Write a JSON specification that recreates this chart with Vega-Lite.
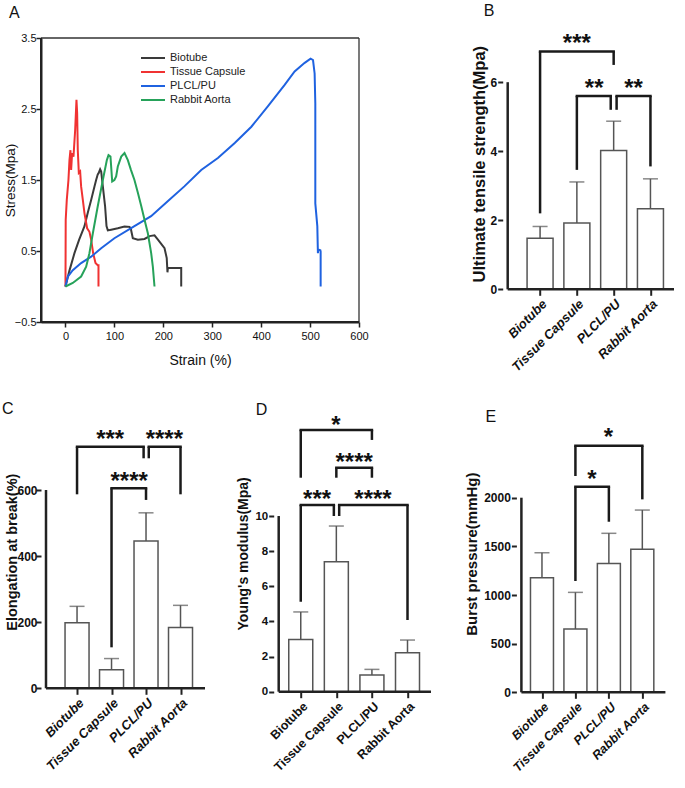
{
"$schema": "https://vega.github.io/schema/vega-lite/v6.json",
"padding": {"left": 2, "top": 3, "right": 0, "bottom": 0},
"autosize": {"type": "pad"},
"spacing": 27,
"config": {
  "font": "Liberation Sans",
  "view": {"stroke": null},
  "axis": {"grid": false, "labelColor": "#111", "titleColor": "#111", "tickColor": "#222", "domainColor": "#222", "labelFlush": false, "labelOverlap": false},
  "title": {"color": "#111", "font": "Liberation Sans"},
  "legend": {"labelFont": "Liberation Sans"}
},
"vconcat": [
{
"hconcat": [
{
  "width": 318, "height": 284,
  "title": {"text": "A", "anchor": "start", "frame": "group", "dx": -32, "offset": 11, "fontSize": 16, "fontWeight": "normal"},
  "layer": [
    {"data": {"values": [
{"s":"Biotube","i":0,"strain":0,"stress":0},{"s":"Biotube","i":1,"strain":8,"stress":0.22},{"s":"Biotube","i":2,"strain":18.4,"stress":0.47},{"s":"Biotube","i":3,"strain":28,"stress":0.66},{"s":"Biotube","i":4,"strain":38.9,"stress":0.85},{"s":"Biotube","i":5,"strain":46,"stress":1.05},{"s":"Biotube","i":6,"strain":52.5,"stress":1.22},{"s":"Biotube","i":7,"strain":59.3,"stress":1.41},{"s":"Biotube","i":8,"strain":62.7,"stress":1.5},{"s":"Biotube","i":9,"strain":66,"stress":1.58},{"s":"Biotube","i":10,"strain":68,"stress":1.6},{"s":"Biotube","i":11,"strain":70.9,"stress":1.65},{"s":"Biotube","i":12,"strain":73,"stress":1.62},{"s":"Biotube","i":13,"strain":76.4,"stress":1.41},{"s":"Biotube","i":14,"strain":81,"stress":1.13},{"s":"Biotube","i":15,"strain":83.9,"stress":0.85},{"s":"Biotube","i":16,"strain":86.6,"stress":0.79},{"s":"Biotube","i":17,"strain":93.4,"stress":0.8},{"s":"Biotube","i":18,"strain":107,"stress":0.82},{"s":"Biotube","i":19,"strain":120.7,"stress":0.845},{"s":"Biotube","i":20,"strain":131,"stress":0.84},{"s":"Biotube","i":21,"strain":134,"stress":0.8},{"s":"Biotube","i":22,"strain":137.7,"stress":0.68},{"s":"Biotube","i":23,"strain":148,"stress":0.66},{"s":"Biotube","i":24,"strain":161.6,"stress":0.67},{"s":"Biotube","i":25,"strain":172,"stress":0.71},{"s":"Biotube","i":26,"strain":182,"stress":0.72},{"s":"Biotube","i":27,"strain":189,"stress":0.66},{"s":"Biotube","i":28,"strain":195.7,"stress":0.6},{"s":"Biotube","i":29,"strain":202.5,"stress":0.54},{"s":"Biotube","i":30,"strain":207,"stress":0.4},{"s":"Biotube","i":31,"strain":208.5,"stress":0.2},{"s":"Biotube","i":32,"strain":209.3,"stress":0.26},{"s":"Biotube","i":33,"strain":236.6,"stress":0.26},{"s":"Biotube","i":34,"strain":236.6,"stress":0},
{"s":"Tissue Capsule","i":0,"strain":0,"stress":0},{"s":"Tissue Capsule","i":1,"strain":0.3,"stress":0.5},{"s":"Tissue Capsule","i":2,"strain":0.5,"stress":0.94},{"s":"Tissue Capsule","i":3,"strain":2.7,"stress":1.22},{"s":"Tissue Capsule","i":4,"strain":6.1,"stress":1.5},{"s":"Tissue Capsule","i":5,"strain":8.2,"stress":1.78},{"s":"Tissue Capsule","i":6,"strain":10.2,"stress":1.92},{"s":"Tissue Capsule","i":7,"strain":11.6,"stress":1.64},{"s":"Tissue Capsule","i":8,"strain":13.6,"stress":1.88},{"s":"Tissue Capsule","i":9,"strain":16.4,"stress":1.83},{"s":"Tissue Capsule","i":10,"strain":19.8,"stress":2.2},{"s":"Tissue Capsule","i":11,"strain":22.5,"stress":2.63},{"s":"Tissue Capsule","i":12,"strain":23.9,"stress":2.44},{"s":"Tissue Capsule","i":13,"strain":25.2,"stress":1.92},{"s":"Tissue Capsule","i":14,"strain":27.3,"stress":1.6},{"s":"Tissue Capsule","i":15,"strain":30,"stress":1.62},{"s":"Tissue Capsule","i":16,"strain":32,"stress":1.41},{"s":"Tissue Capsule","i":17,"strain":35.5,"stress":1.22},{"s":"Tissue Capsule","i":18,"strain":38.9,"stress":1.03},{"s":"Tissue Capsule","i":19,"strain":44.3,"stress":0.82},{"s":"Tissue Capsule","i":20,"strain":49,"stress":0.77},{"s":"Tissue Capsule","i":21,"strain":52.5,"stress":0.66},{"s":"Tissue Capsule","i":22,"strain":56.6,"stress":0.47},{"s":"Tissue Capsule","i":23,"strain":61.4,"stress":0.33},{"s":"Tissue Capsule","i":24,"strain":66,"stress":0.3},{"s":"Tissue Capsule","i":25,"strain":67.5,"stress":0.3},{"s":"Tissue Capsule","i":26,"strain":67.5,"stress":0},
{"s":"PLCL/PU","i":0,"strain":0,"stress":0},{"s":"PLCL/PU","i":1,"strain":4.8,"stress":0.14},{"s":"PLCL/PU","i":2,"strain":15,"stress":0.23},{"s":"PLCL/PU","i":3,"strain":32,"stress":0.33},{"s":"PLCL/PU","i":4,"strain":52.5,"stress":0.42},{"s":"PLCL/PU","i":5,"strain":73,"stress":0.54},{"s":"PLCL/PU","i":6,"strain":100,"stress":0.68},{"s":"PLCL/PU","i":7,"strain":141,"stress":0.85},{"s":"PLCL/PU","i":8,"strain":175,"stress":0.99},{"s":"PLCL/PU","i":9,"strain":209,"stress":1.2},{"s":"PLCL/PU","i":10,"strain":243,"stress":1.41},{"s":"PLCL/PU","i":11,"strain":277.5,"stress":1.64},{"s":"PLCL/PU","i":12,"strain":311.6,"stress":1.81},{"s":"PLCL/PU","i":13,"strain":346,"stress":2.02},{"s":"PLCL/PU","i":14,"strain":380,"stress":2.25},{"s":"PLCL/PU","i":15,"strain":414,"stress":2.54},{"s":"PLCL/PU","i":16,"strain":448,"stress":2.84},{"s":"PLCL/PU","i":17,"strain":468.4,"stress":3.03},{"s":"PLCL/PU","i":18,"strain":489,"stress":3.15},{"s":"PLCL/PU","i":19,"strain":501,"stress":3.21},{"s":"PLCL/PU","i":20,"strain":506,"stress":3.19},{"s":"PLCL/PU","i":21,"strain":509.3,"stress":3.0},{"s":"PLCL/PU","i":22,"strain":510.7,"stress":2.58},{"s":"PLCL/PU","i":23,"strain":510.7,"stress":1.69},{"s":"PLCL/PU","i":24,"strain":510.7,"stress":1.17},{"s":"PLCL/PU","i":25,"strain":514.8,"stress":0.85},{"s":"PLCL/PU","i":26,"strain":516,"stress":0.47},{"s":"PLCL/PU","i":27,"strain":517,"stress":0.52},{"s":"PLCL/PU","i":28,"strain":521,"stress":0.51},{"s":"PLCL/PU","i":29,"strain":521.6,"stress":0.49},{"s":"PLCL/PU","i":30,"strain":521.6,"stress":0},
{"s":"Rabbit Aorta","i":0,"strain":0,"stress":0},{"s":"Rabbit Aorta","i":1,"strain":15,"stress":0.05},{"s":"Rabbit Aorta","i":2,"strain":32,"stress":0.14},{"s":"Rabbit Aorta","i":3,"strain":42.3,"stress":0.28},{"s":"Rabbit Aorta","i":4,"strain":49,"stress":0.47},{"s":"Rabbit Aorta","i":5,"strain":56,"stress":0.75},{"s":"Rabbit Aorta","i":6,"strain":66,"stress":1.13},{"s":"Rabbit Aorta","i":7,"strain":76.4,"stress":1.5},{"s":"Rabbit Aorta","i":8,"strain":84.6,"stress":1.78},{"s":"Rabbit Aorta","i":9,"strain":88,"stress":1.85},{"s":"Rabbit Aorta","i":10,"strain":92,"stress":1.83},{"s":"Rabbit Aorta","i":11,"strain":95.5,"stress":1.48},{"s":"Rabbit Aorta","i":12,"strain":100,"stress":1.5},{"s":"Rabbit Aorta","i":13,"strain":103.6,"stress":1.55},{"s":"Rabbit Aorta","i":14,"strain":107,"stress":1.69},{"s":"Rabbit Aorta","i":15,"strain":114,"stress":1.83},{"s":"Rabbit Aorta","i":16,"strain":120.7,"stress":1.88},{"s":"Rabbit Aorta","i":17,"strain":127.5,"stress":1.78},{"s":"Rabbit Aorta","i":18,"strain":134,"stress":1.64},{"s":"Rabbit Aorta","i":19,"strain":141,"stress":1.5},{"s":"Rabbit Aorta","i":20,"strain":148,"stress":1.32},{"s":"Rabbit Aorta","i":21,"strain":155,"stress":1.13},{"s":"Rabbit Aorta","i":22,"strain":161.6,"stress":0.94},{"s":"Rabbit Aorta","i":23,"strain":168.4,"stress":0.75},{"s":"Rabbit Aorta","i":24,"strain":175.2,"stress":0.47},{"s":"Rabbit Aorta","i":25,"strain":178.6,"stress":0.28},{"s":"Rabbit Aorta","i":26,"strain":182,"stress":0}
     ]},
     "mark": {"type": "line", "strokeWidth": 2},
     "encoding": {
       "x": {"field": "strain", "type": "quantitative", "scale": {"domain": [-50, 600], "nice": false, "zero": false},
             "axis": {"orient": "bottom", "values": [0,100,200,300,400,500,600], "domain": true, "ticks": true, "tickSize": 5, "tickWidth": 1.5, "domainWidth": 2, "labelFontSize": 11, "labelPadding": 3, "labelOverlap": false, "title": "Strain (%)", "titleFontSize": 14, "titleFontWeight": "normal", "titlePadding": 12}},
       "y": {"field": "stress", "type": "quantitative", "scale": {"domain": [-0.5, 3.5], "nice": false, "zero": false},
             "axis": {"orient": "left", "values": [-0.5,0,0.5,1,1.5,2,2.5,3,3.5], "format": ".1f", "domain": true, "ticks": true, "tickSize": 5, "tickWidth": 1.5, "domainWidth": 2, "labelFontSize": 11, "labelPadding": 0, "labelOverlap": false, "title": "Stress(Mpa)", "titleFontSize": 13.5, "titleFontWeight": "normal", "titlePadding": -3}},
       "color": {"field": "s", "type": "nominal",
                 "scale": {"domain": ["Biotube", "Tissue Capsule", "PLCL/PU", "Rabbit Aorta"], "range": ["#3a3a3a", "#f03232", "#1f62e0", "#26a25a"]},
                 "legend": {"orient": "none", "legendX": 105, "legendY": 13, "title": null, "symbolType": "M-2,0H2", "symbolSize": 144, "symbolStrokeWidth": 2, "labelFontSize": 11, "labelColor": "#222", "labelOffset": 10, "rowPadding": 2, "padding": 0}},
       "order": {"field": "i", "type": "quantitative"}
     }},
    {"data": {"values": [{}]}, "mark": {"type": "rule", "stroke": "#333", "strokeWidth": 1.3}, "encoding": {"x": {"datum": -50}, "x2": {"datum": 600}, "y": {"datum": 3.5}}},
    {"data": {"values": [{}]}, "mark": {"type": "rule", "stroke": "#333", "strokeWidth": 1.3}, "encoding": {"x": {"datum": 600}, "y": {"datum": -0.5}, "y2": {"datum": 3.5}}},
    {"data": {"values": [{}]}, "mark": {"type": "rule", "stroke": "#222", "strokeWidth": 2}, "encoding": {"x": {"datum": -50}, "x2": {"datum": 600}, "y": {"datum": -0.5}}},
    {"data": {"values": [{}]}, "mark": {"type": "rule", "stroke": "#222", "strokeWidth": 2}, "encoding": {"x": {"datum": -50}, "y": {"datum": -0.5}, "y2": {"datum": 3.5}}}
  ]
},
{
  "width": 176.3, "height": 251.3,
  "title": {"text": "B", "anchor": "start", "frame": "group", "dx": -19, "offset": 13, "fontSize": 16, "fontWeight": "normal"},
  "layer": [
    {"data": {"values": [{"g":"Biotube","pos":1,"mean":1.48,"upper":1.82},{"g":"Tissue Capsule","pos":2,"mean":1.92,"upper":3.11},{"g":"PLCL/PU","pos":3,"mean":4.02,"upper":4.87},{"g":"Rabbit Aorta","pos":4,"mean":2.33,"upper":3.2}]},
     "mark": {"type": "bar", "orient": "vertical", "width": 26, "fill": "white", "stroke": "#555", "strokeWidth": 1.5},
     "encoding": {
       "x": {"field": "pos", "type": "quantitative", "scale": {"domain": [0.12, 4.64], "nice": false, "zero": false},
             "axis": {"values": [1,2,3,4], "labelExpr": "['','Biotube','Tissue Capsule','PLCL/PU','Rabbit Aorta'][datum.value]", "labelAngle": -45, "labelFontSize": 13, "labelFontWeight": "bold", "labelFontStyle": "italic", "domain": false, "tickSize": 6, "tickWidth": 2, "labelPadding": 2, "title": null}},
       "y": {"field": "mean", "type": "quantitative", "scale": {"domain": [0, 7.28], "nice": false},
             "axis": {"values": [0,2,4,6], "format": "d", "domain": false, "tickSize": 5, "tickWidth": 2, "labelFontSize": 12, "labelFontWeight": "bold", "labelPadding": 1, "title": "Ultimate tensile strength(Mpa)", "titleFontSize": 16.5, "titleFontWeight": "bold", "titlePadding": 3}}
     }},
    {"data": {"values": [{"g":"Biotube","pos":1,"mean":1.48,"upper":1.82},{"g":"Tissue Capsule","pos":2,"mean":1.92,"upper":3.11},{"g":"PLCL/PU","pos":3,"mean":4.02,"upper":4.87},{"g":"Rabbit Aorta","pos":4,"mean":2.33,"upper":3.2}]},
     "mark": {"type": "rule", "stroke": "#555", "strokeWidth": 1.5},
     "encoding": {"x": {"field": "pos", "type": "quantitative"}, "y": {"field": "mean", "type": "quantitative"}, "y2": {"field": "upper"}}},
    {"data": {"values": [{"g":"Biotube","pos":1,"mean":1.48,"upper":1.82},{"g":"Tissue Capsule","pos":2,"mean":1.92,"upper":3.11},{"g":"PLCL/PU","pos":3,"mean":4.02,"upper":4.87},{"g":"Rabbit Aorta","pos":4,"mean":2.33,"upper":3.2}]},
     "mark": {"type": "tick", "orient": "horizontal", "size": 15, "thickness": 1.5, "color": "#555"},
     "encoding": {"x": {"field": "pos", "type": "quantitative"}, "y": {"field": "upper", "type": "quantitative"}}},
    {"data": {"values": [{}]}, "mark": {"type": "rule", "stroke": "#222", "strokeWidth": 2.5}, "encoding": {"x": {"datum": 0.12}, "x2": {"datum": 4.64}, "y": {"datum": 0}}},
    {"data": {"values": [{}]}, "mark": {"type": "rule", "stroke": "#222", "strokeWidth": 2.5}, "encoding": {"x": {"datum": 0.12}, "y": {"datum": 0}, "y2": {"datum": 6}}},
    {"data": {"values": [{"xa":1,"xb":3,"top":6.89,"ya":2.2,"yb":6.5,"label":"***","lx":2.0,"ly":7.27},{"xa":2,"xb":2.92,"top":5.6,"ya":3.46,"yb":5.2,"label":"**","lx":2.47,"ly":5.97},{"xa":3.08,"xb":4,"top":5.6,"ya":5.2,"yb":3.56,"label":"**","lx":3.54,"ly":5.97}]},
     "layer": [
       {"mark": {"type": "rule", "stroke": "#1a1a1a", "strokeWidth": 2.5, "strokeCap": "square"}, "encoding": {"x": {"field": "xa", "type": "quantitative"}, "x2": {"field": "xb"}, "y": {"field": "top", "type": "quantitative"}}},
       {"mark": {"type": "rule", "stroke": "#1a1a1a", "strokeWidth": 2.5}, "encoding": {"x": {"field": "xa", "type": "quantitative"}, "y": {"field": "ya", "type": "quantitative"}, "y2": {"field": "top"}}},
       {"mark": {"type": "rule", "stroke": "#1a1a1a", "strokeWidth": 2.5}, "encoding": {"x": {"field": "xb", "type": "quantitative"}, "y": {"field": "yb", "type": "quantitative"}, "y2": {"field": "top"}}},
       {"mark": {"type": "text", "fontSize": 24, "fontWeight": "bold", "baseline": "alphabetic", "dy": 13, "color": "#111"}, "encoding": {"x": {"field": "lx", "type": "quantitative"}, "y": {"field": "ly", "type": "quantitative"}, "text": {"field": "label"}}}
     ]}
  ]
}
],
"spacing": 143.7,
"bounds": "flush"
},
{
"hconcat": [
{
  "width": 169, "height": 273.3,
  "title": {"text": "C", "anchor": "start", "frame": "group", "dx": -39, "offset": -2, "fontSize": 16, "fontWeight": "normal"},
  "layer": [
    {"data": {"values": [{"g":"Biotube","pos":1,"mean":198,"upper":248},{"g":"Tissue Capsule","pos":2,"mean":56,"upper":90},{"g":"PLCL/PU","pos":3,"mean":446,"upper":531},{"g":"Rabbit Aorta","pos":4,"mean":184,"upper":251}]},
     "mark": {"type": "bar", "orient": "vertical", "width": 24, "fill": "white", "stroke": "#555", "strokeWidth": 1.5},
     "encoding": {
       "x": {"field": "pos", "type": "quantitative", "scale": {"domain": [0.1, 4.71], "nice": false, "zero": false},
             "axis": {"values": [1,2,3,4], "labelExpr": "['','Biotube','Tissue Capsule','PLCL/PU','Rabbit Aorta'][datum.value]", "labelAngle": -45, "labelFontSize": 13, "labelFontWeight": "bold", "labelFontStyle": "italic", "domain": false, "tickSize": 6, "tickWidth": 2, "labelPadding": 2, "title": null}},
       "y": {"field": "mean", "type": "quantitative", "scale": {"domain": [0, 827], "nice": false},
             "axis": {"values": [0,200,400,600], "format": "d", "domain": false, "tickSize": 5, "tickWidth": 2, "labelFontSize": 12, "labelFontWeight": "bold", "labelPadding": -1, "title": "Elongation at break(%)", "titleFontSize": 14.5, "titleFontWeight": "bold", "titlePadding": -3}}
     }},
    {"data": {"values": [{"g":"Biotube","pos":1,"mean":198,"upper":248},{"g":"Tissue Capsule","pos":2,"mean":56,"upper":90},{"g":"PLCL/PU","pos":3,"mean":446,"upper":531},{"g":"Rabbit Aorta","pos":4,"mean":184,"upper":251}]},
     "mark": {"type": "rule", "stroke": "#555", "strokeWidth": 1.5},
     "encoding": {"x": {"field": "pos", "type": "quantitative"}, "y": {"field": "mean", "type": "quantitative"}, "y2": {"field": "upper"}}},
    {"data": {"values": [{"g":"Biotube","pos":1,"mean":198,"upper":248},{"g":"Tissue Capsule","pos":2,"mean":56,"upper":90},{"g":"PLCL/PU","pos":3,"mean":446,"upper":531},{"g":"Rabbit Aorta","pos":4,"mean":184,"upper":251}]},
     "mark": {"type": "tick", "orient": "horizontal", "size": 15, "thickness": 1.5, "color": "#555"},
     "encoding": {"x": {"field": "pos", "type": "quantitative"}, "y": {"field": "upper", "type": "quantitative"}}},
    {"data": {"values": [{}]}, "mark": {"type": "rule", "stroke": "#222", "strokeWidth": 2.5}, "encoding": {"x": {"datum": 0.1}, "x2": {"datum": 4.71}, "y": {"datum": 0}}},
    {"data": {"values": [{}]}, "mark": {"type": "rule", "stroke": "#222", "strokeWidth": 2.5}, "encoding": {"x": {"datum": 0.1}, "y": {"datum": 0}, "y2": {"datum": 600}}},
    {"data": {"values": [{"xa":1,"xb":2.93,"top":731,"ya":587,"yb":696,"label":"***","lx":1.96,"ly":771},{"xa":3.08,"xb":4,"top":731,"ya":696,"yb":587,"label":"****","lx":3.53,"ly":771},{"xa":2,"xb":3,"top":605,"ya":124,"yb":570,"label":"****","lx":2.51,"ly":642}]},
     "layer": [
       {"mark": {"type": "rule", "stroke": "#1a1a1a", "strokeWidth": 2.5, "strokeCap": "square"}, "encoding": {"x": {"field": "xa", "type": "quantitative"}, "x2": {"field": "xb"}, "y": {"field": "top", "type": "quantitative"}}},
       {"mark": {"type": "rule", "stroke": "#1a1a1a", "strokeWidth": 2.5}, "encoding": {"x": {"field": "xa", "type": "quantitative"}, "y": {"field": "ya", "type": "quantitative"}, "y2": {"field": "top"}}},
       {"mark": {"type": "rule", "stroke": "#1a1a1a", "strokeWidth": 2.5}, "encoding": {"x": {"field": "xb", "type": "quantitative"}, "y": {"field": "yb", "type": "quantitative"}, "y2": {"field": "top"}}},
       {"mark": {"type": "text", "fontSize": 24, "fontWeight": "bold", "baseline": "alphabetic", "dy": 13, "color": "#111"}, "encoding": {"x": {"field": "lx", "type": "quantitative"}, "y": {"field": "ly", "type": "quantitative"}, "text": {"field": "label"}}}
     ]}
  ]
},
{
  "width": 178.3, "height": 276.7,
  "title": {"text": "D", "anchor": "start", "frame": "group", "dx": -18, "offset": -4, "fontSize": 16, "fontWeight": "normal"},
  "layer": [
    {"data": {"values": [{"g":"Biotube","pos":1,"mean":2.97,"upper":4.54},{"g":"Tissue Capsule","pos":2,"mean":7.4,"upper":9.43},{"g":"PLCL/PU","pos":3,"mean":0.95,"upper":1.27},{"g":"Rabbit Aorta","pos":4,"mean":2.22,"upper":2.94}]},
     "mark": {"type": "bar", "orient": "vertical", "width": 24, "fill": "white", "stroke": "#555", "strokeWidth": 1.5},
     "encoding": {
       "x": {"field": "pos", "type": "quantitative", "scale": {"domain": [0.38, 5.11], "nice": false, "zero": false},
             "axis": {"values": [1,2,3,4], "labelExpr": "['','Biotube','Tissue Capsule','PLCL/PU','Rabbit Aorta'][datum.value]", "labelAngle": -45, "labelFontSize": 12.5, "labelFontWeight": "bold", "domain": false, "tickSize": 6, "tickWidth": 2, "labelPadding": 2, "title": null}},
       "y": {"field": "mean", "type": "quantitative", "scale": {"domain": [0, 15.75], "nice": false},
             "axis": {"values": [0,2,4,6,8,10], "format": "d", "domain": false, "tickSize": 5, "tickWidth": 2, "labelFontSize": 11.5, "labelFontWeight": "bold", "labelPadding": 1, "title": "Young's modulus(Mpa)", "titleFontSize": 14, "titleFontWeight": "bold", "titlePadding": 4}}
     }},
    {"data": {"values": [{"g":"Biotube","pos":1,"mean":2.97,"upper":4.54},{"g":"Tissue Capsule","pos":2,"mean":7.4,"upper":9.43},{"g":"PLCL/PU","pos":3,"mean":0.95,"upper":1.27},{"g":"Rabbit Aorta","pos":4,"mean":2.22,"upper":2.94}]},
     "mark": {"type": "rule", "stroke": "#555", "strokeWidth": 1.5},
     "encoding": {"x": {"field": "pos", "type": "quantitative"}, "y": {"field": "mean", "type": "quantitative"}, "y2": {"field": "upper"}}},
    {"data": {"values": [{"g":"Biotube","pos":1,"mean":2.97,"upper":4.54},{"g":"Tissue Capsule","pos":2,"mean":7.4,"upper":9.43},{"g":"PLCL/PU","pos":3,"mean":0.95,"upper":1.27},{"g":"Rabbit Aorta","pos":4,"mean":2.22,"upper":2.94}]},
     "mark": {"type": "tick", "orient": "horizontal", "size": 15, "thickness": 1.5, "color": "#555"},
     "encoding": {"x": {"field": "pos", "type": "quantitative"}, "y": {"field": "upper", "type": "quantitative"}}},
    {"data": {"values": [{}]}, "mark": {"type": "rule", "stroke": "#222", "strokeWidth": 2.5}, "encoding": {"x": {"datum": 0.38}, "x2": {"datum": 4.66}, "y": {"datum": 0}}},
    {"data": {"values": [{}]}, "mark": {"type": "rule", "stroke": "#222", "strokeWidth": 2.5}, "encoding": {"x": {"datum": 0.38}, "y": {"datum": 0}, "y2": {"datum": 10}}},
    {"data": {"values": [{"xa":1,"xb":3,"top":14.9,"ya":12.18,"yb":14.33,"label":"*","lx":1.99,"ly":15.46},{"xa":2,"xb":3,"top":12.75,"ya":12.18,"yb":12.18,"label":"****","lx":2.5,"ly":13.38},{"xa":1,"xb":1.93,"top":10.63,"ya":5.12,"yb":10.0,"label":"***","lx":1.46,"ly":11.23},{"xa":2.08,"xb":4,"top":10.63,"ya":10.0,"yb":4.08,"label":"****","lx":3.03,"ly":11.23}]},
     "layer": [
       {"mark": {"type": "rule", "stroke": "#1a1a1a", "strokeWidth": 2.5, "strokeCap": "square"}, "encoding": {"x": {"field": "xa", "type": "quantitative"}, "x2": {"field": "xb"}, "y": {"field": "top", "type": "quantitative"}}},
       {"mark": {"type": "rule", "stroke": "#1a1a1a", "strokeWidth": 2.5}, "encoding": {"x": {"field": "xa", "type": "quantitative"}, "y": {"field": "ya", "type": "quantitative"}, "y2": {"field": "top"}}},
       {"mark": {"type": "rule", "stroke": "#1a1a1a", "strokeWidth": 2.5}, "encoding": {"x": {"field": "xb", "type": "quantitative"}, "y": {"field": "yb", "type": "quantitative"}, "y2": {"field": "top"}}},
       {"mark": {"type": "text", "fontSize": 24, "fontWeight": "bold", "baseline": "alphabetic", "dy": 13, "color": "#111"}, "encoding": {"x": {"field": "lx", "type": "quantitative"}, "y": {"field": "ly", "type": "quantitative"}, "text": {"field": "label"}}}
     ]}
  ]
},
{
  "width": 154, "height": 277.3,
  "title": {"text": "E", "anchor": "start", "frame": "group", "dx": -31, "offset": -10, "fontSize": 16, "fontWeight": "normal"},
  "layer": [
    {"data": {"values": [{"g":"Biotube","pos":1,"mean":1178,"upper":1435},{"g":"Tissue Capsule","pos":2,"mean":651,"upper":1027},{"g":"PLCL/PU","pos":3,"mean":1325,"upper":1634},{"g":"Rabbit Aorta","pos":4,"mean":1469,"upper":1873}]},
     "mark": {"type": "bar", "orient": "vertical", "width": 23, "fill": "white", "stroke": "#555", "strokeWidth": 1.5},
     "encoding": {
       "x": {"field": "pos", "type": "quantitative", "scale": {"domain": [0.385, 4.69], "nice": false, "zero": false},
             "axis": {"values": [1,2,3,4], "labelExpr": "['','Biotube','Tissue Capsule','PLCL/PU','Rabbit Aorta'][datum.value]", "labelAngle": -45, "labelFontSize": 12.5, "labelFontWeight": "bold", "labelFontStyle": "italic", "domain": false, "tickSize": 6, "tickWidth": 2, "labelPadding": 2, "title": null}},
       "y": {"field": "mean", "type": "quantitative", "scale": {"domain": [0, 2850], "nice": false},
             "axis": {"values": [0,500,1000,1500,2000], "format": "d", "domain": false, "tickSize": 5, "tickWidth": 2, "labelFontSize": 12, "labelFontWeight": "bold", "labelPadding": 1, "title": "Burst pressure(mmHg)", "titleFontSize": 15, "titleFontWeight": "bold", "titlePadding": 4}}
     }},
    {"data": {"values": [{"g":"Biotube","pos":1,"mean":1178,"upper":1435},{"g":"Tissue Capsule","pos":2,"mean":651,"upper":1027},{"g":"PLCL/PU","pos":3,"mean":1325,"upper":1634},{"g":"Rabbit Aorta","pos":4,"mean":1469,"upper":1873}]},
     "mark": {"type": "rule", "stroke": "#555", "strokeWidth": 1.5},
     "encoding": {"x": {"field": "pos", "type": "quantitative"}, "y": {"field": "mean", "type": "quantitative"}, "y2": {"field": "upper"}}},
    {"data": {"values": [{"g":"Biotube","pos":1,"mean":1178,"upper":1435},{"g":"Tissue Capsule","pos":2,"mean":651,"upper":1027},{"g":"PLCL/PU","pos":3,"mean":1325,"upper":1634},{"g":"Rabbit Aorta","pos":4,"mean":1469,"upper":1873}]},
     "mark": {"type": "tick", "orient": "horizontal", "size": 15, "thickness": 1.5, "color": "#555"},
     "encoding": {"x": {"field": "pos", "type": "quantitative"}, "y": {"field": "upper", "type": "quantitative"}}},
    {"data": {"values": [{}]}, "mark": {"type": "rule", "stroke": "#222", "strokeWidth": 2.5}, "encoding": {"x": {"datum": 0.385}, "x2": {"datum": 4.69}, "y": {"datum": 0}}},
    {"data": {"values": [{}]}, "mark": {"type": "rule", "stroke": "#222", "strokeWidth": 2.5}, "encoding": {"x": {"datum": 0.385}, "y": {"datum": 0}, "y2": {"datum": 2000}}},
    {"data": {"values": [{"xa":2,"xb":4,"top":2534,"ya":2223,"yb":1983,"label":"*","lx":2.99,"ly":2671},{"xa":2,"xb":3,"top":2113,"ya":1144,"yb":1753,"label":"*","lx":2.49,"ly":2243}]},
     "layer": [
       {"mark": {"type": "rule", "stroke": "#1a1a1a", "strokeWidth": 2.5, "strokeCap": "square"}, "encoding": {"x": {"field": "xa", "type": "quantitative"}, "x2": {"field": "xb"}, "y": {"field": "top", "type": "quantitative"}}},
       {"mark": {"type": "rule", "stroke": "#1a1a1a", "strokeWidth": 2.5}, "encoding": {"x": {"field": "xa", "type": "quantitative"}, "y": {"field": "ya", "type": "quantitative"}, "y2": {"field": "top"}}},
       {"mark": {"type": "rule", "stroke": "#1a1a1a", "strokeWidth": 2.5}, "encoding": {"x": {"field": "xb", "type": "quantitative"}, "y": {"field": "yb", "type": "quantitative"}, "y2": {"field": "top"}}},
       {"mark": {"type": "text", "fontSize": 24, "fontWeight": "bold", "baseline": "alphabetic", "dy": 13, "color": "#111"}, "encoding": {"x": {"field": "lx", "type": "quantitative"}, "y": {"field": "ly", "type": "quantitative"}, "text": {"field": "label"}}}
     ]}
  ]
}
],
"spacing": 63.7,
"bounds": "flush"
}
]
}
